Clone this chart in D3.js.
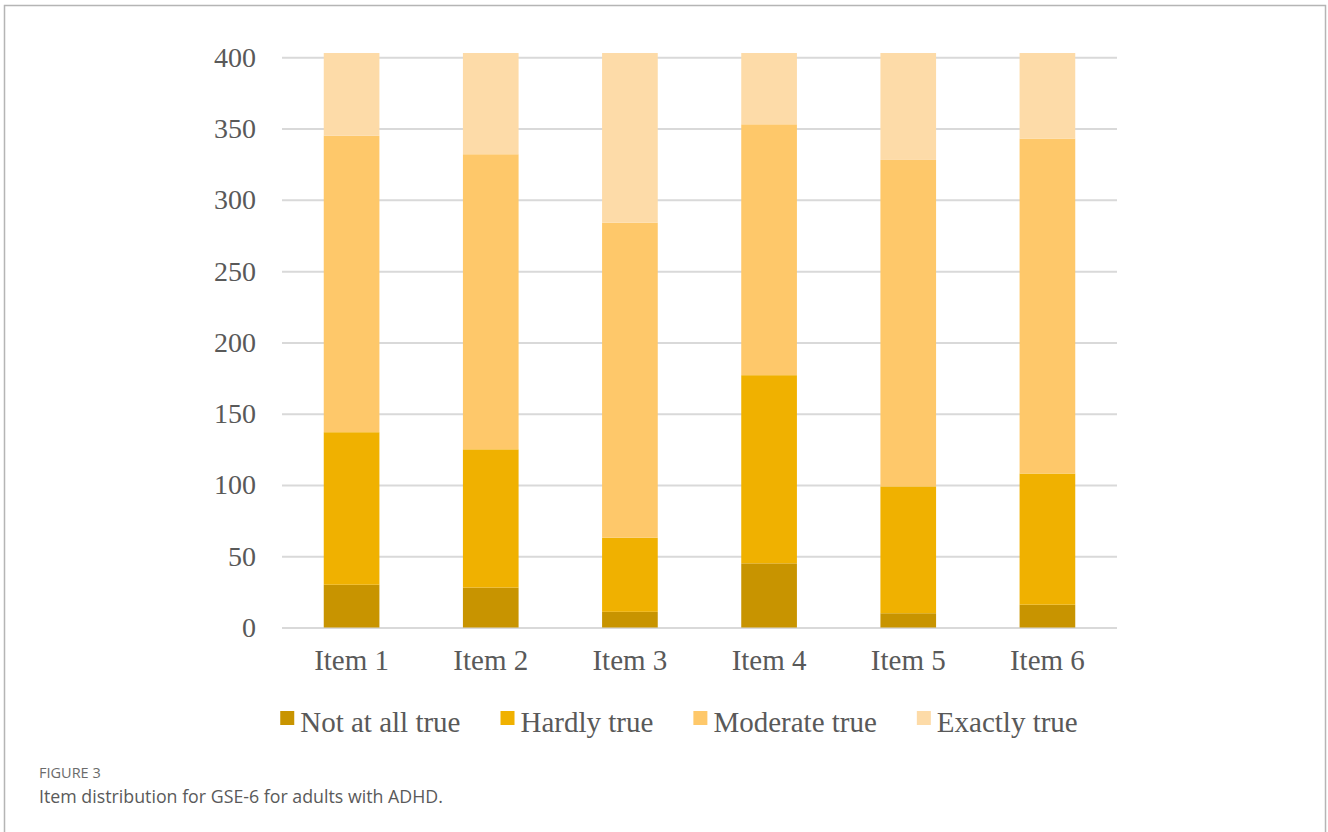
<!DOCTYPE html>
<html>
<head>
<meta charset="utf-8">
<script src="https://cdn.jsdelivr.net/npm/d3@7/dist/d3.min.js"></script>
<style>
  html, body { margin: 0; padding: 0; background: #fff; }
  svg { display: block; }
</style>
</head>
<body>
<svg id="chart" width="1328" height="832"></svg>
<script>
// GSE-6 item responses, stacked by answer level
const categories = ["Item 1", "Item 2", "Item 3", "Item 4", "Item 5", "Item 6"];
const notAtAllTrue = [30, 28, 11, 45, 10, 16];
const hardlyTrue   = [107, 97, 52, 132, 89, 92];
const moderateTrue = [208, 207, 221, 176, 229, 235];
const exactlyTrue  = [58, 71, 119, 50, 75, 60];
const seriesNames  = ["Not at all true", "Hardly true", "Moderate true", "Exactly true"];
const yTicks = [0, 50, 100, 150, 200, 250, 300, 350, 400];

const colors = ["#c89400", "#f0b100", "#fec86a", "#fddba8"];
const serifFont = "'Liberation Serif', 'Times New Roman', serif";

const svg = d3.select("#chart");

// outer frame of the figure panel
svg.append("rect")
  .attr("x", 4.5).attr("y", 5.5)
  .attr("width", 1321).attr("height", 840)
  .attr("fill", "none")
  .attr("stroke", "#b5b5b5")
  .attr("stroke-width", 1.5);

const rows = categories.map((c, i) => ({
  category: c,
  "Not at all true": notAtAllTrue[i],
  "Hardly true": hardlyTrue[i],
  "Moderate true": moderateTrue[i],
  "Exactly true": exactlyTrue[i]
}));

const stacked = d3.stack().keys(seriesNames)(rows);

const x = d3.scaleBand()
  .domain(categories)
  .range([282, 1117])
  .paddingInner(0.6)
  .paddingOuter(0.3);

const y = d3.scaleLinear()
  .domain([0, 400])
  .range([627.5, 57.3]);

// horizontal gridlines with value labels
const yAxis = d3.axisLeft(y)
  .tickValues(yTicks)
  .tickSize(-(1117 - 282))
  .tickPadding(26)
  .tickFormat(d3.format("d"));

const gy = svg.append("g")
  .attr("transform", "translate(282,0)")
  .call(yAxis);
gy.select(".domain").remove();
gy.selectAll(".tick line")
  .attr("stroke", "#d9d9d9")
  .attr("stroke-width", 2);
gy.selectAll(".tick text")
  .attr("font-family", serifFont)
  .attr("font-size", 28)
  .attr("fill", "#595959");

// stacked bars
svg.append("g")
  .selectAll("g")
  .data(stacked)
  .join("g")
  .attr("fill", (d, i) => colors[i])
  .selectAll("rect")
  .data(d => d)
  .join("rect")
  .attr("x", d => x(d.data.category))
  .attr("y", d => y(d[1]))
  .attr("width", x.bandwidth())
  .attr("height", d => y(d[0]) - y(d[1]));

// category labels
const xAxis = d3.axisBottom(x).tickSize(0).tickPadding(22);
const gx = svg.append("g")
  .attr("transform", "translate(0,627.5)")
  .call(xAxis);
gx.select(".domain").remove();
gx.selectAll(".tick text")
  .attr("font-family", serifFont)
  .attr("font-size", 29)
  .attr("fill", "#595959");

// legend, centred under the plot
const legend = svg.append("g");
const items = legend.selectAll("g")
  .data(seriesNames)
  .join("g");
items.append("rect")
  .attr("width", 14).attr("height", 14)
  .attr("y", -21)
  .attr("fill", (d, i) => colors[i]);
items.append("text")
  .attr("x", 20)
  .attr("font-family", serifFont)
  .attr("font-size", 29)
  .attr("fill", "#595959")
  .text(d => d);

const gap = 40;
let cursor = 0;
const offsets = [];
items.each(function () {
  offsets.push(cursor);
  const w = 20 + d3.select(this).select("text").node().getComputedTextLength();
  cursor += w + gap;
});
const totalWidth = cursor - gap;
const startX = 679 - totalWidth / 2;
items.attr("transform", (d, i) => `translate(${startX + offsets[i]},0)`);
legend.attr("transform", "translate(0,732)");

// figure caption
svg.append("text")
  .attr("x", 39).attr("y", 778)
  .attr("font-family", "'Open Sans', 'Noto Sans', sans-serif")
  .attr("font-size", 14.5)
  .attr("fill", "#6b6b6b")
  .text("FIGURE 3");

svg.append("text")
  .attr("x", 39).attr("y", 803)
  .attr("font-family", "'Open Sans', 'Noto Sans', sans-serif")
  .attr("font-size", 17.8)
  .attr("fill", "#5a5a5a")
  .text("Item distribution for GSE-6 for adults with ADHD.");
</script>
</body>
</html>
